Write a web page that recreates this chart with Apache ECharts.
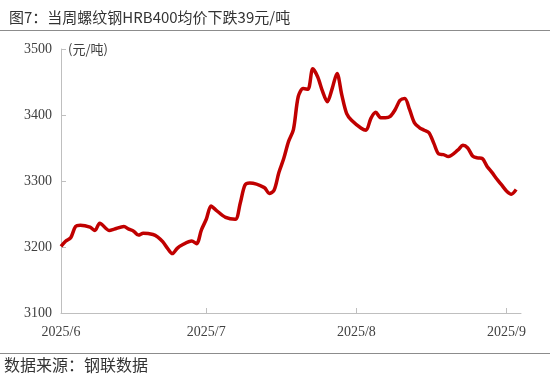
<!DOCTYPE html>
<html>
<head>
<meta charset="utf-8">
<script src="https://cdn.jsdelivr.net/npm/echarts@6/dist/echarts.min.js"></script>
<style>
html,body{margin:0;padding:0;background:#fff;}
#chart{width:550px;height:381px;}
</style>
</head>
<body>
<div id="chart"></div>
<script>
const titleText = '图7：当周螺纹钢HRB400均价下跌39元/吨';
const sourceText = '数据来源：钢联数据';
const unitText = '(元/吨)';
const axisStart = '2025-06-01';
const axisEnd = '2025-09-04';
const monthTicks = ['2025-06-01', '2025-07-01', '2025-08-01', '2025-09-01'];
const tickLabels = ['2025/6', '2025/7', '2025/8', '2025/9'];
const yTicks = [3100, 3200, 3300, 3400, 3500];

const dates = [
  '2025-06-01','2025-06-02','2025-06-03','2025-06-04','2025-06-05','2025-06-07','2025-06-08','2025-06-09',
  '2025-06-11','2025-06-12','2025-06-14','2025-06-15','2025-06-16','2025-06-17','2025-06-18','2025-06-20',
  '2025-06-21','2025-06-22','2025-06-23','2025-06-24','2025-06-25','2025-06-26','2025-06-28','2025-06-29',
  '2025-06-30','2025-07-01','2025-07-02','2025-07-03','2025-07-05','2025-07-07','2025-07-08','2025-07-09',
  '2025-07-10','2025-07-13','2025-07-14','2025-07-15','2025-07-16','2025-07-17','2025-07-18','2025-07-19',
  '2025-07-20','2025-07-21','2025-07-22','2025-07-23','2025-07-24','2025-07-25','2025-07-26','2025-07-27',
  '2025-07-28','2025-07-29','2025-07-30','2025-07-31','2025-08-02','2025-08-03','2025-08-04','2025-08-05',
  '2025-08-06','2025-08-07','2025-08-08','2025-08-09','2025-08-10','2025-08-11','2025-08-12','2025-08-13',
  '2025-08-14','2025-08-15','2025-08-16','2025-08-17','2025-08-18','2025-08-19','2025-08-20','2025-08-22',
  '2025-08-23','2025-08-24','2025-08-25','2025-08-26','2025-08-27','2025-08-28','2025-08-29','2025-08-30',
  '2025-08-31','2025-09-01','2025-09-02','2025-09-03'
];
const prices = [
  3201,3209,3214,3231,3233,3230,3225,3236,
  3225,3227,3231,3227,3224,3218,3221,3219,
  3215,3208,3198,3190,3198,3203,3209,3205,
  3226,3242,3262,3256,3245,3242,3266,3294,
  3297,3290,3281,3286,3313,3334,3360,3378,
  3428,3440,3439,3470,3458,3436,3420,3440,
  3463,3430,3402,3392,3380,3377,3395,3404,
  3396,3396,3398,3408,3422,3425,3408,3388,
  3381,3377,3373,3357,3341,3340,3337,3347,
  3354,3350,3338,3335,3334,3322,3313,3303,
  3294,3285,3280,3287
];

// daily category list for the x axis
const allDays = [];
(function(){
  const s = new Date(axisStart + 'T00:00:00Z');
  const e = new Date(axisEnd + 'T00:00:00Z');
  for (let d = s; d <= e; d = new Date(d.getTime() + 86400000)) {
    allDays.push(d.toISOString().slice(0, 10));
  }
})();

const seriesData = dates.map((d, i) => [d, prices[i]]);
const isMonth = (idx, val) => monthTicks.indexOf(val) >= 0;

const chart = echarts.init(document.getElementById('chart'), null, {renderer: 'canvas'});
chart.setOption({
  animation: false,
  backgroundColor: '#ffffff',
  title: {
    text: titleText,
    left: 4, top: 5,
    textStyle: {fontFamily: 'Noto Sans CJK SC', fontSize: 15, fontWeight: 'normal', color: '#333333'}
  },
  graphic: [
    {type: 'line', shape: {x1: 0, y1: 30.5, x2: 550, y2: 30.5}, style: {stroke: '#8c8c8c', lineWidth: 1}},
    {type: 'line', shape: {x1: 0, y1: 353.5, x2: 550, y2: 353.5}, style: {stroke: '#8c8c8c', lineWidth: 1}},
    {type: 'text', left: 4, top: 357, style: {text: sourceText, font: '16px "Noto Sans CJK SC"', fill: '#333333'}},
    {type: 'text', left: 68, top: 43, style: {text: unitText, font: '13px "Noto Sans CJK SC"', fill: '#404040'}}
  ],
  grid: {left: 61, right: 29, top: 49, bottom: 68, containLabel: false},
  xAxis: {
    type: 'category',
    data: allDays,
    boundaryGap: false,
    axisLine: {lineStyle: {color: '#bfbfbf', width: 1}},
    axisTick: {inside: true, length: 5, interval: isMonth, lineStyle: {color: '#bfbfbf'}},
    axisLabel: {
      interval: isMonth,
      margin: 12,
      fontFamily: 'Liberation Serif', fontSize: 14, color: '#404040',
      formatter: v => tickLabels[monthTicks.indexOf(v)] || ''
    },
    splitLine: {show: false}
  },
  yAxis: {
    type: 'value',
    min: yTicks[0], max: yTicks[yTicks.length - 1], interval: 100,
    axisLine: {show: true, lineStyle: {color: '#bfbfbf', width: 1}},
    axisTick: {show: true, inside: true, length: 5, lineStyle: {color: '#bfbfbf'}},
    axisLabel: {fontFamily: 'Liberation Serif', fontSize: 14, color: '#404040', margin: 9, formatter: v => String(v)},
    splitLine: {show: false}
  },
  series: [{
    type: 'line',
    data: seriesData,
    smooth: 0.3,
    showSymbol: false,
    symbol: 'none',
    lineStyle: {color: '#c00000', width: 3.5}
  }]
});
</script>
</body>
</html>
